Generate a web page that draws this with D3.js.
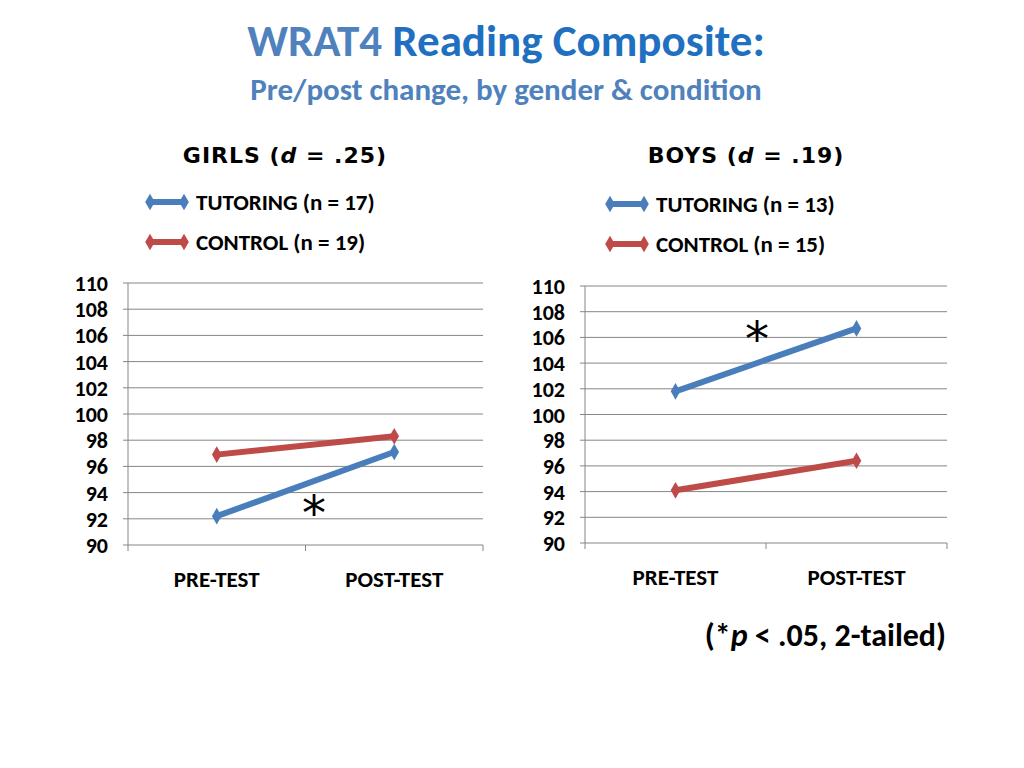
<!DOCTYPE html>
<html><head><meta charset="utf-8">
<script src="https://cdn.jsdelivr.net/npm/d3@7"></script>
<style>body{margin:0;background:#fff}svg{font-family:Calibri,Carlito,"Liberation Sans Narrow","Open Sans",sans-serif}</style>
</head><body>
<svg id="c" width="1024" height="768"></svg>
<script>
const categories = ["PRE-TEST","POST-TEST"];
const yTicks = [90,92,94,96,98,100,102,104,106,108,110];
const girlsTutoring = [92.2, 97.1];
const girlsControl = [96.9, 98.3];
const boysTutoring = [101.8, 106.7];
const boysControl = [94.1, 96.4];
const panels = [
  {title:"GIRLS", d:".25", nT:17, nC:19, tut:girlsTutoring, con:girlsControl, x0:128, x1:483, y0:545, y1:283, lx:150, ly:202, star:[314,512], catY:587, tx:285},
  {title:"BOYS", d:".19", nT:13, nC:15, tut:boysTutoring, con:boysControl, x0:585, x1:947, y0:543, y1:286, lx:610, ly:204, star:[757,338], catY:585, tx:746}
];
const svg = d3.select("#c");
const t = svg.append("text").attr("x",506).attr("y",56).attr("text-anchor","middle").attr("font-size",45).attr("font-weight","bold");
t.append("tspan").attr("fill","#4F81BD").text("WRAT4 ");
t.append("tspan").attr("fill","#1F70C1").text("Reading Composite:");
svg.append("text").attr("x",506).attr("y",100).attr("text-anchor","middle").attr("font-size",31).attr("font-weight","bold").attr("fill","#4F81BD").text("Pre/post change, by gender & condition");
const blue="#4A7EBB", red="#BE4B48";
panels.forEach(p=>{
  const x = d3.scalePoint().domain(categories).range([p.x0,p.x1]).padding(0.5);
  const y = d3.scaleLinear().domain([90,110]).range([p.y0,p.y1]);
  const g = svg.append("g");
  yTicks.forEach(v=>g.append("line").attr("x1",p.x0).attr("x2",p.x1).attr("y1",y(v)).attr("y2",y(v)).attr("stroke","#868686").attr("stroke-width",1));
  g.append("line").attr("x1",p.x0).attr("x2",p.x0).attr("y1",p.y0).attr("y2",p.y1).attr("stroke","#868686");
  yTicks.forEach(v=>{
    g.append("line").attr("x1",p.x0-5).attr("x2",p.x0).attr("y1",y(v)).attr("y2",y(v)).attr("stroke","#868686");
    g.append("text").attr("x",p.x0-20).attr("y",y(v)+8).attr("text-anchor","end").attr("font-size",22).attr("font-weight","bold").text(v);
  });
  [p.x0,(p.x0+p.x1)/2,p.x1].forEach(xx=>g.append("line").attr("x1",xx).attr("x2",xx).attr("y1",p.y0).attr("y2",p.y0+6).attr("stroke","#868686"));
  categories.forEach(c=>g.append("text").attr("x",x(c)).attr("y",p.catY).attr("text-anchor","middle").attr("font-size",23).attr("font-weight","bold").text(c));
  const line=d3.line().x((d,i)=>x(categories[i])).y(d=>y(d));
  [[p.con,red],[p.tut,blue]].forEach(([s,col])=>{
    g.append("path").attr("d",line(s)).attr("fill","none").attr("stroke",col).attr("stroke-width",6);
    s.forEach((v,i)=>g.append("path").attr("d",d3.symbol(d3.symbolDiamond,80)()).attr("transform",`translate(${x(categories[i])},${y(v)})`).attr("fill",col));
  });
  g.append("text").attr("x",p.star[0]).attr("y",p.star[1]+18).attr("text-anchor","middle").attr("font-size",48).attr("font-family","DejaVu Sans").text("*");
  const tt=g.append("text").attr("x",p.tx).attr("y",163).attr("text-anchor","middle").attr("font-size",22).attr("font-weight","bold").attr("font-family","DejaVu Sans").attr("letter-spacing",1);
  tt.append("tspan").text(p.title+" (");
  tt.append("tspan").attr("font-style","italic").text("d");
  tt.append("tspan").text(" = "+p.d+")");
  [[blue,`TUTORING (n = ${p.nT})`,0],[red,`CONTROL (n = ${p.nC})`,40]].forEach(([col,lab,dy])=>{
    const yy=p.ly+dy;
    g.append("line").attr("x1",p.lx-2).attr("x2",p.lx+36).attr("y1",yy).attr("y2",yy).attr("stroke",col).attr("stroke-width",6);
    g.append("path").attr("d",d3.symbol(d3.symbolDiamond,80)()).attr("transform",`translate(${p.lx},${yy})`).attr("fill",col);
    g.append("path").attr("d",d3.symbol(d3.symbolDiamond,80)()).attr("transform",`translate(${p.lx+34},${yy})`).attr("fill",col);
    g.append("text").attr("x",p.lx+46).attr("y",yy+8).attr("font-size",23).attr("font-weight","bold").text(lab);
  });
});
const n=svg.append("text").attr("x",946).attr("y",646).attr("text-anchor","end").attr("font-size",32).attr("font-weight","bold");
n.append("tspan").text("(*");n.append("tspan").attr("font-style","italic").text("p");n.append("tspan").text(" < .05, 2-tailed)");
</script></body></html>
